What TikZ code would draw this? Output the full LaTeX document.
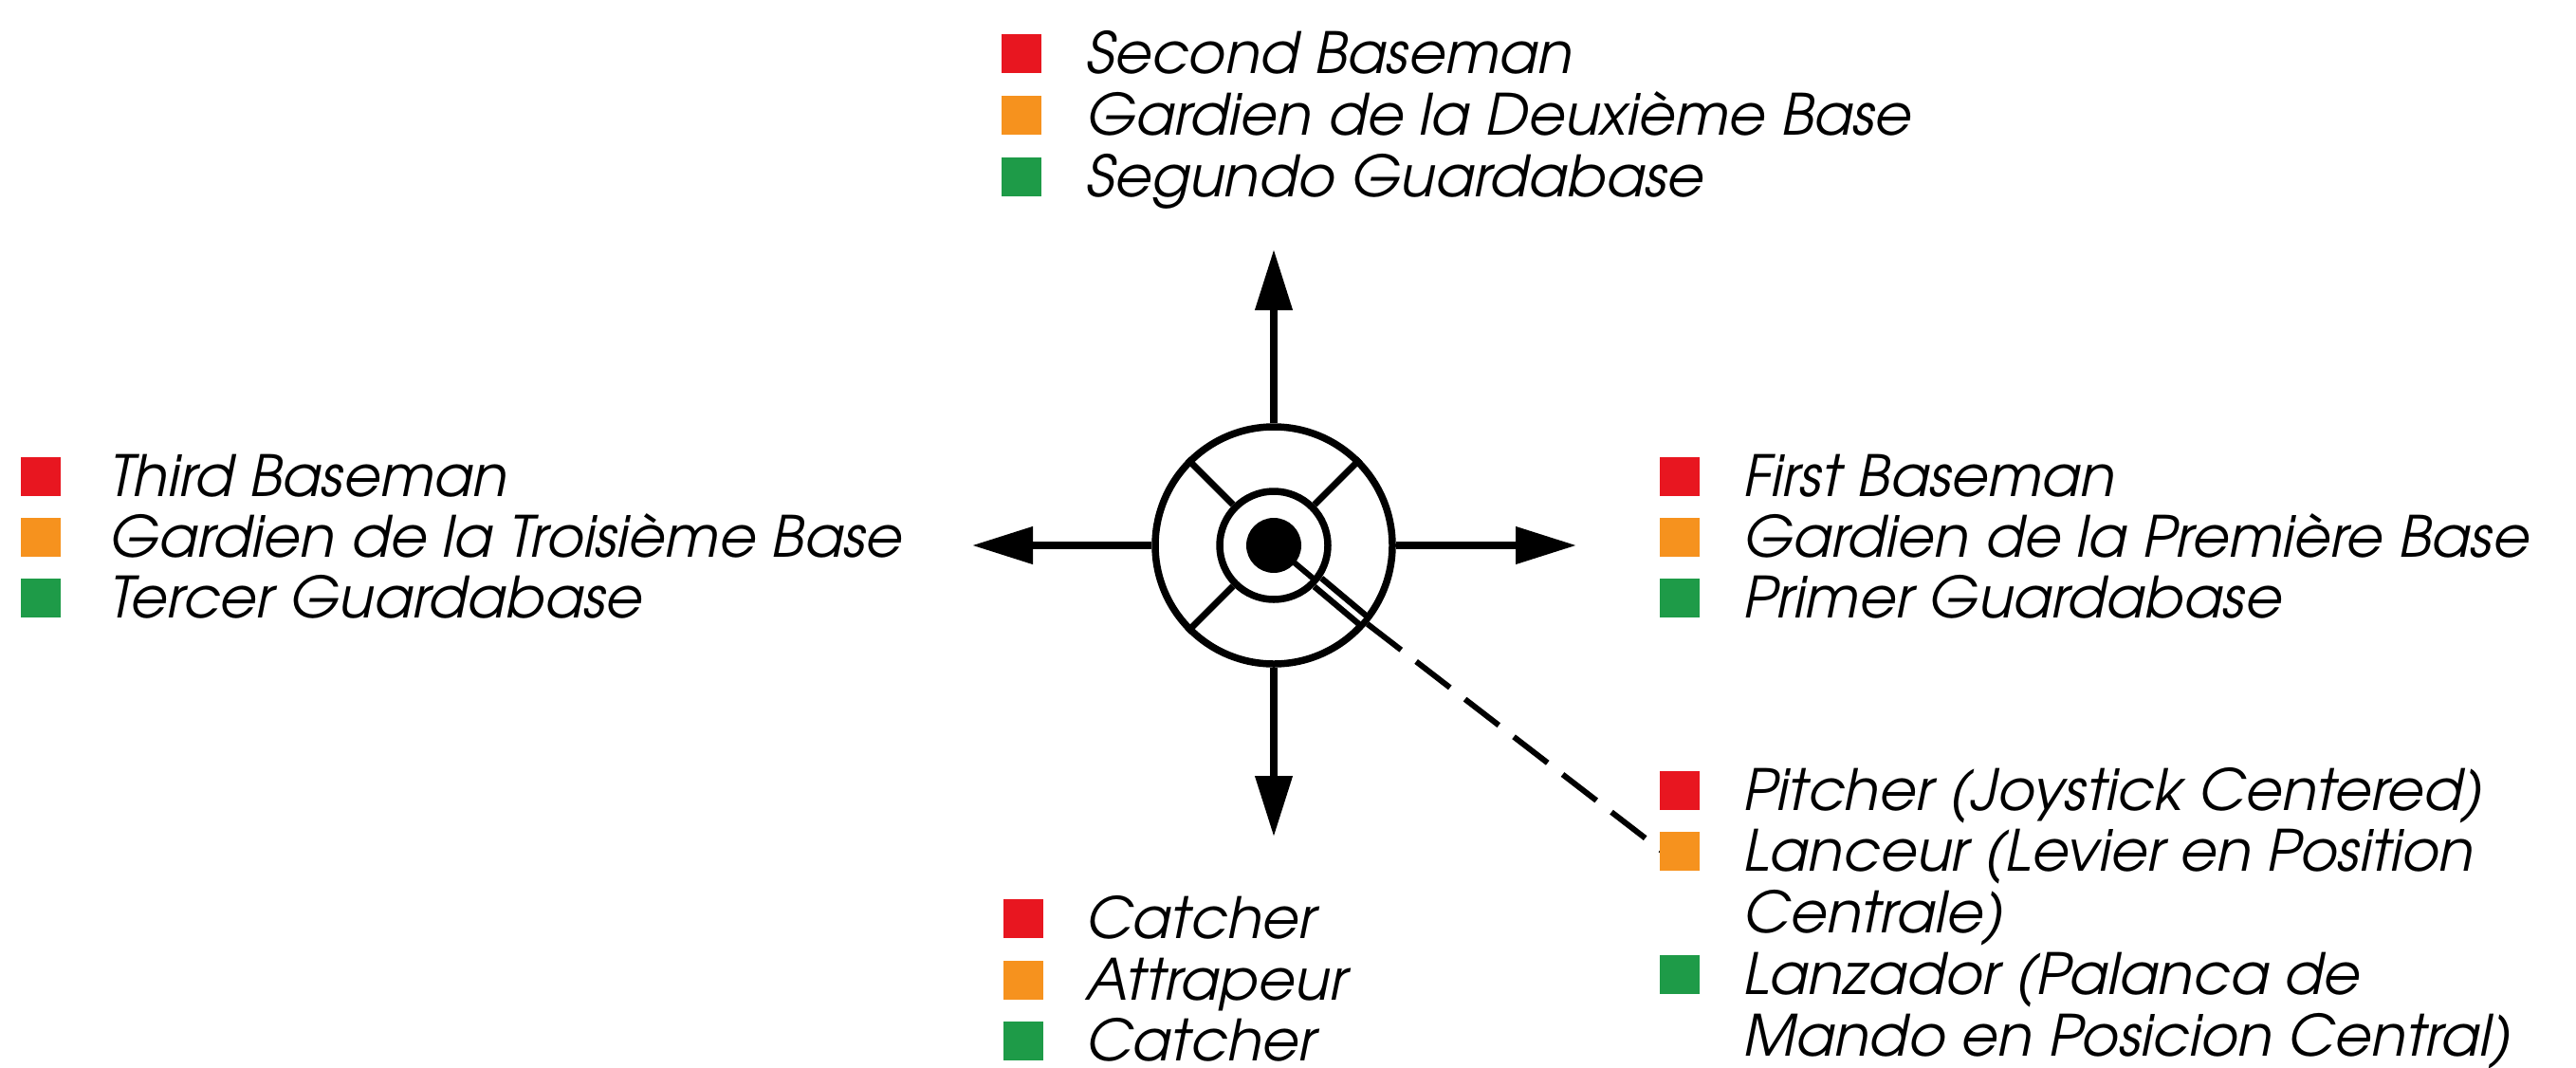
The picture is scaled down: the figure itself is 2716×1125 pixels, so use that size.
\documentclass[tikz,border=0pt]{standalone}
\usepackage{fontspec}
\newfontfamily\lblfont{TeX Gyre Adventor}[FakeSlant=0.2]
\usetikzlibrary{arrows.meta,calc}
\definecolor{cred}{RGB}{232,22,32}
\definecolor{corange}{RGB}{246,146,30}
\definecolor{cgreen}{RGB}{30,155,72}
\tikzset{
  sq/.style={rectangle, inner sep=0pt, minimum width=42pt, minimum height=41pt, fill=#1},
  lbl/.style={anchor=base west, inner sep=0pt, font=\lblfont\fontsize{60}{65}\selectfont},
  arr/.style={line width=7.5pt, -{Triangle[width=38pt,length=64pt]}},
  ring/.style={circle, draw, line width=7.5pt, inner sep=0pt},
}
\begin{document}
\begin{tikzpicture}[x=1pt,y=-1pt]
\useasboundingbox (0,0) rectangle (2716,1125);
% joystick
\node[ring, minimum size=250pt] (joy) at (1343,575) {};
\node[ring, minimum size=114pt] (inner) at (1343,575) {};
\node[circle, fill, inner sep=0pt, minimum size=58pt] (dot) at (1343,575) {};
% dividers
\draw[line width=7pt] (inner.45) -- (joy.45);
\draw[line width=7pt] (inner.135) -- (joy.135);
\draw[line width=7pt] (inner.225) -- (joy.225);
% lever
\draw[line width=6pt] (dot.center) -- (inner.-40);
\draw[line width=6.5pt, double=white, double distance=5pt, shorten >=7pt] (inner.-40) -- (joy.-40);
\coordinate (leverend) at (1752,897);
\draw[line width=6pt, dash pattern=on 45pt off 20pt] (joy.-40) -- (leverend);
% arrows
\coordinate (tipN) at (1343,263);
\coordinate (tipS) at (1343,882);
\coordinate (tipW) at (1025,575);
\coordinate (tipE) at (1662,575);
\draw[arr] (joy.north) -- (tipN);
\draw[arr] (joy.south) -- (tipS);
\draw[arr] (joy.west) -- (tipW);
\draw[arr] (joy.east) -- (tipE);
% top group
\node[sq=cred] (t1) at (1077,56) {};
\node[sq=corange] (t2) at (1077,121) {};
\node[sq=cgreen] (t3) at (1077,186) {};
\node[lbl] (tt1) at (1143,77) {Second Baseman};
\node[lbl] (tt2) at (1143,142) {Gardien de la Deuxième Base};
\node[lbl] (tt3) at (1143,207) {Segundo Guardabase};
% left group
\node[sq=cred] (l1) at (43,502) {};
\node[sq=corange] (l2) at (43,566) {};
\node[sq=cgreen] (l3) at (43,630) {};
\node[lbl] (lt1) at (113,523) {Third Baseman};
\node[lbl] (lt2) at (113,587) {Gardien de la Troisième Base};
\node[lbl] (lt3) at (113,651) {Tercer Guardabase};
% right group
\node[sq=cred] (r1) at (1771,502) {};
\node[sq=corange] (r2) at (1771,566) {};
\node[sq=cgreen] (r3) at (1771,630) {};
\node[lbl] (rt1) at (1836,523) {First Baseman};
\node[lbl] (rt2) at (1836,587) {Gardien de la Première Base};
\node[lbl] (rt3) at (1836,651) {Primer Guardabase};
% bottom-right group
\node[sq=cred] (p1) at (1771,833) {};
\node[sq=corange] (p2) at (1771,897) {};
\node[sq=cgreen] (p3) at (1771,1027) {};
\node[lbl] (pt1) at (1836,854) {Pitcher (Joystick Centered)};
\node[lbl] (pt2) at (1836,918) {Lanceur (Levier en Position};
\node[lbl] (pt2b) at (1836,983) {Centrale)};
\node[lbl] (pt3) at (1836,1048) {Lanzador (Palanca de};
\node[lbl] (pt3b) at (1836,1113) {Mando en Posicion Central)};
% bottom group
\node[sq=cred] (b1) at (1079,968) {};
\node[sq=corange] (b2) at (1079,1033) {};
\node[sq=cgreen] (b3) at (1079,1097) {};
\node[lbl] (bt1) at (1143,989) {Catcher};
\node[lbl] (bt2) at (1143,1054) {Attrapeur};
\node[lbl] (bt3) at (1143,1118) {Catcher};
\end{tikzpicture}
\end{document}
